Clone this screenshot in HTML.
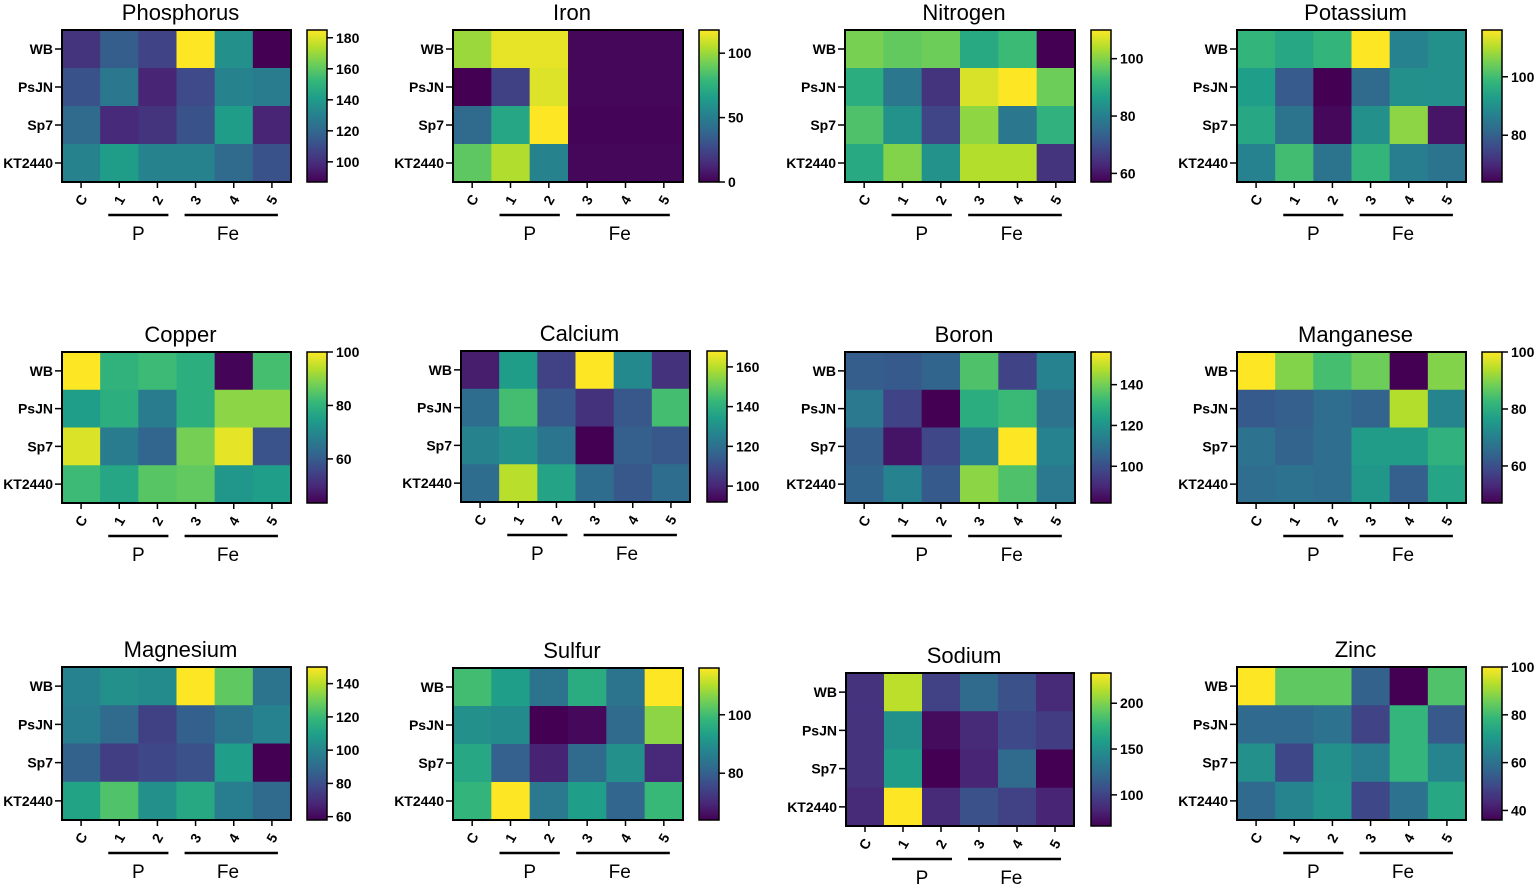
<!DOCTYPE html>
<html><head><meta charset="utf-8"><style>
html,body{margin:0;padding:0;background:#fff;}
svg text{font-family:"Liberation Sans",Arial,sans-serif;}
</style></head>
<body>
<svg id="fig" width="1535" height="886" xmlns="http://www.w3.org/2000/svg"></svg>
<script>
const rowLabels = ["WB","PsJN","Sp7","KT2440"];
const colLabels = ["C","1","2","3","4","5"];
const titles = ["Phosphorus","Iron","Nitrogen","Potassium","Copper","Calcium","Boron","Manganese","Magnesium","Sulfur","Sodium","Zinc"];
const ranges = [[87,185],[0,118],[57,110],[64,116],[43.5,100],[92,168],[82,156],[47,100],[58,150],[64,116],[66,233],[36,100]];
const ticks = [[100,120,140,160,180],[0,50,100],[60,80,100],[80,100],[60,80,100],[100,120,140,160],[100,120,140],[60,80,100],[60,80,100,120,140],[80,100],[100,150,200],[40,60,80,100]];
const phosphorus = [[102,116,107,185,136,87],[112,126,97,109,131,128],[121,99,102,112,141,97],[131,141,131,131,121,112]];
const iron = [[100,114,114,2,2,2],[0,23,112,2,2,2],[41,70,118,1,1,1],[88,104,53,2,2,2]];
const nitrogen = [[99,97,98,89,93,57],[90,78,65,107,110,98],[95,84,68,101,78,91],[89,100,84,104,104,65]];
const potassium = [[98,95,98,116,87,90],[93,79,64,82,90,90],[95,84,65,90,107,67],[87,100,84,98,86,84]];
const copper = [[100,80,82,79,44,83],[75,79,67,79,90,90],[97,67,62,88,98,58],[82,77,85,86,73,75]];
const calcium = [[98,134,107,168,128,103],[119,145,113,103,113,145],[126,130,122,92,115,113],[119,160,136,119,113,119]];
const boron = [[104,103,106,135,97,115],[112,97,82,128,132,110],[104,86,98,115,156,115],[106,115,103,143,135,112]];
const manganese = [[100,90,84,88,47,90],[62,63,66,64,94,71],[67,64,66,76,76,81],[66,67,66,75,63,78]];
const magnesium = [[99,104,102,150,127,93],[97,90,76,86,93,99],[87,75,78,81,109,58],[111,124,104,113,97,90]];
const sulfur = [[100,93,84,96,84,116],[90,89,64,65,82,107],[95,80,69,82,90,70],[98,116,85,93,81,99]];
const sodium = [[91,216,99,124,108,86],[91,150,71,86,103,96],[91,158,66,83,124,66],[86,233,86,108,99,83]];
const zinc = [[100,84,84,56,36,82],[58,58,60,49,78,54],[68,50,68,63,78,65],[58,65,69,50,60,74]];
const allData = [phosphorus,iron,nitrogen,potassium,copper,calcium,boron,manganese,magnesium,sulfur,sodium,zinc];

const layout = [
 [62,30,229,152,307,30,152],[453,30,230,152,699,30,152],[845,30,230,152,1091,30,152],[1237,30,229,152,1482,30,152],
 [62,352,229,151,307,352,151],[461,351,229,151,707,351,151],[845,352,230,151,1091,352,151],[1237,352,229,151,1482,352,151],
 [62,667,229,153,307,667,153],[453,668,230,152,699,668,152],[846,673,228,153,1091,673,153],[1237,667,229,153,1482,667,153]
];

const VIR = ["#440154","#482878","#3e4989","#31688e","#26828e","#1f9e89","#35b779","#6ece58","#b5de2b","#fde725"];
function hex(h){return [1,3,5].map(i=>parseInt(h.substr(i,2),16));}
function viridis(t){t=Math.max(0,Math.min(1,t));const p=t*(VIR.length-1);const i=Math.min(Math.floor(p),VIR.length-2);const f=p-i;const a=hex(VIR[i]),b=hex(VIR[i+1]);return "rgb("+a.map((v,k)=>Math.round(v+(b[k]-v)*f)).join(",")+")";}

const NS="http://www.w3.org/2000/svg";
const svg=document.getElementById("fig");
function mk(tag,attrs,parent,txt){const e=document.createElementNS(NS,tag);for(const k in attrs)e.setAttribute(k,attrs[k]);if(txt!==undefined)e.textContent=txt;(parent||svg).appendChild(e);return e;}

allData.forEach((data,p)=>{
  const [hx,hy,hw,hh,cx,cy,ch]=layout[p];
  const [vmin,vmax]=ranges[p];
  const cw=hw/6, rh=hh/4;
  const g=mk("g",{});
  
  
  const t=mk("text",{x:hx+hw/2+4,y:hy-10,"text-anchor":"middle","font-size":"22"},g,titles[p]);
  
  
  data.forEach((row,r)=>row.forEach((v,c)=>{
    const cell=mk("rect",{x:hx+c*cw,y:hy+r*rh,width:cw+0.5,height:rh+0.5,fill:viridis((v-vmin)/(vmax-vmin))},g);
    
    
  }));
  mk("rect",{x:hx,y:hy,width:hw,height:hh,fill:"none",stroke:"#000","stroke-width":2},g);
  rowLabels.forEach((lab,r)=>{
    const y=hy+(r+0.5)*rh;
    mk("line",{x1:hx-7,x2:hx,y1:y,y2:y,stroke:"#000","stroke-width":1.5},g);
    const tl=mk("text",{x:hx-9,y:y+5,"text-anchor":"end","font-size":"14","font-weight":"bold"},g,lab);
    
    
  });
  colLabels.forEach((lab,c)=>{
    const x=hx+(c+0.5)*cw;
    mk("line",{x1:x,x2:x,y1:hy+hh,y2:hy+hh+6,stroke:"#000","stroke-width":1.5},g);
    const tl=mk("text",{x:x,y:hy+hh+23,"text-anchor":"middle","font-size":"14","font-weight":"bold",transform:"rotate(-60 "+x+" "+(hy+hh+18)+")"},g,lab);
    
    
  });
  const ly=hy+hh+33;
  mk("line",{x1:hx+1.5*cw-11,x2:hx+2.5*cw+11,y1:ly,y2:ly,stroke:"#000","stroke-width":2.5},g);
  mk("line",{x1:hx+3.5*cw-11,x2:hx+5.5*cw+6,y1:ly,y2:ly,stroke:"#000","stroke-width":2.5},g);
  const pl=mk("text",{x:hx+2*cw,y:ly+25,"text-anchor":"middle","font-size":"19"},g,"P");
  
  
  const fl=mk("text",{x:hx+4.35*cw,y:ly+25,"text-anchor":"middle","font-size":"19"},g,"Fe");
  
  
  const gid="grad"+p;
  const defs=mk("defs",{},g);
  const lg=mk("linearGradient",{id:gid,x1:0,y1:1,x2:0,y2:0},defs);
  VIR.forEach((col,i)=>mk("stop",{offset:(i/(VIR.length-1)),"stop-color":col},lg));
  const cb=mk("rect",{x:cx,y:cy,width:20,height:ch,fill:"url(#"+gid+")",stroke:"#000","stroke-width":1.5},g);
  
  
  ticks[p].forEach(tv=>{
    const y=cy+ch-(tv-vmin)/(vmax-vmin)*ch;
    mk("line",{x1:cx+20,x2:cx+26,y1:y,y2:y,stroke:"#000","stroke-width":1.5},g);
    const tl=mk("text",{x:cx+29,y:y+5,"font-size":"14","font-weight":"bold"},g,String(tv));
    
    
  });
});
</script>
</body></html>
